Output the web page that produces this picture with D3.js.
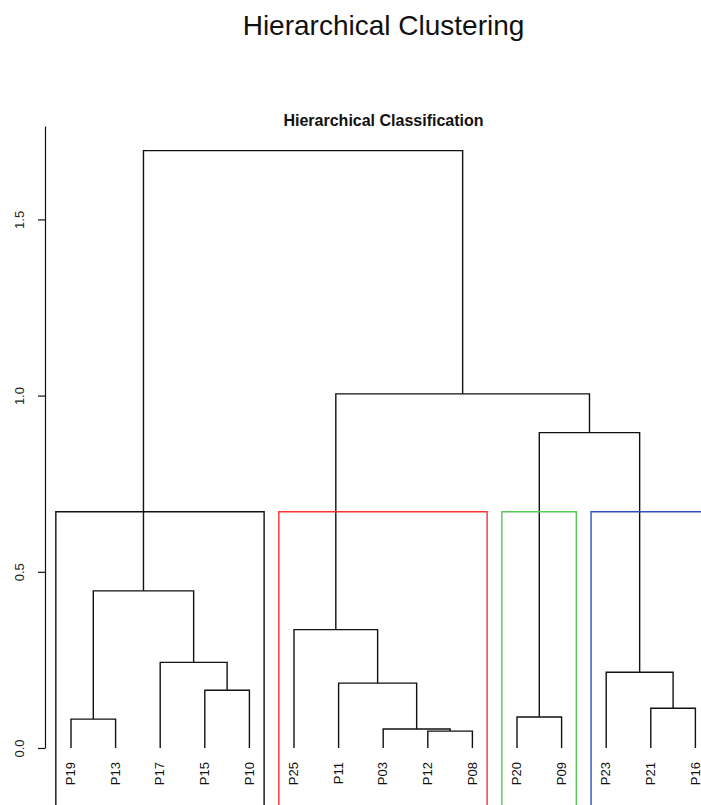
<!DOCTYPE html>
<html>
<head>
<meta charset="utf-8">
<script src="https://cdn.jsdelivr.net/npm/d3@7"></script>
<style>
    body { margin: 0; background: #fff; }
    svg { display: block; font-family: "Liberation Sans", Arial, sans-serif; }
</style>
</head>
<body>
<svg id="chart" width="701" height="805"></svg>
<script>
// Leaf order as drawn from left to right
var leafLabels = ['P19', 'P13', 'P17', 'P15', 'P10', 'P25', 'P11', 'P03', 'P12', 'P08', 'P20', 'P09', 'P23', 'P21', 'P16'];

// Merge steps (R style): a string is a leaf, a number refers to an earlier step (1-based)
var mergeLeft = ['P12', 'P03', 'P19', 'P20', 'P21', 'P15', 'P11', 'P23', 'P17', 'P25', 3, 4, 10, 11];
var mergeRight = ['P08', 1, 'P13', 'P09', 'P16', 'P10', 2, 5, 6, 7, 9, 8, 12, 13];
var mergeHeight = [0.048, 0.054, 0.082, 0.088, 0.113, 0.164, 0.184, 0.215, 0.243, 0.336, 0.446, 0.895, 1.005, 1.695];

// Cut into 4 groups, boxes drawn by rect.hclust
var clusterSizes = [5, 5, 2, 3];
var clusterColors = ['#111111', '#ff3030', '#55c855', '#3050c0'];

var yTicks = [0, 0.5, 1.0, 1.5];

var LINE_COLOR = '#111',
    LINE_WIDTH = 1.4;

var svg = d3.select('#chart');

var x = d3.scaleLinear()
    .domain([1, leafLabels.length])
    .range([71, 695.4]);

var y = d3.scaleLinear()
    .domain([0, 1.765])
    .range([748, 126]);

// Titles
svg.append('text')
    .attr('x', 383.5)
    .attr('y', 35)
    .attr('text-anchor', 'middle')
    .attr('font-size', 28)
    .attr('fill', '#111')
    .text('Hierarchical Clustering');

svg.append('text')
    .attr('x', 383.5)
    .attr('y', 126)
    .attr('text-anchor', 'middle')
    .attr('font-size', 16)
    .attr('font-weight', 'bold')
    .attr('fill', '#111')
    .text('Hierarchical Classification');

// Y axis
var axis = svg.append('g')
    .attr('transform', 'translate(45,0)')
    .call(d3.axisLeft(y)
        .tickValues(yTicks)
        .tickFormat(d3.format('.1f'))
        .tickSize(7)
        .tickSizeOuter(0)
        .tickPadding(0));

axis.select('.domain').attr('stroke', LINE_COLOR).attr('stroke-width', 1.2);
axis.selectAll('.tick line').attr('stroke', LINE_COLOR).attr('stroke-width', 1.2);
axis.selectAll('.tick text')
    .attr('x', null)
    .attr('dy', null)
    .attr('text-anchor', 'middle')
    .attr('font-size', 13)
    .attr('font-family', '"Liberation Sans", Arial, sans-serif')
    .attr('fill', '#222')
    .attr('transform', 'translate(-21,0) rotate(-90)');

// Resolve merge steps into positions
function nodeInfo(ref, nodes) {
    if (typeof ref === 'string') {
        return { x: x(leafLabels.indexOf(ref) + 1), h: 0 };
    }
    return nodes[ref - 1];
}

var nodes = [];
mergeLeft.forEach(function(a, i) {
    var left = nodeInfo(a, nodes);
    var right = nodeInfo(mergeRight[i], nodes);
    nodes.push({
        left: left,
        right: right,
        h: mergeHeight[i],
        x: (left.x + right.x) / 2
    });
});

var tree = svg.append('g');
nodes.forEach(function(n) {
    var p = d3.path();
    p.moveTo(n.left.x, y(n.left.h));
    p.lineTo(n.left.x, y(n.h));
    p.lineTo(n.right.x, y(n.h));
    p.lineTo(n.right.x, y(n.right.h));
    tree.append('path')
        .attr('d', p.toString())
        .attr('fill', 'none')
        .attr('stroke', LINE_COLOR)
        .attr('stroke-width', LINE_WIDTH);
});

// Leaf labels
svg.append('g')
    .selectAll('text')
    .data(leafLabels)
    .enter()
    .append('text')
    .attr('transform', function(d, i) { return 'translate(' + x(i + 1) + ',762) rotate(-90)'; })
    .attr('dy', '0.33em')
    .attr('text-anchor', 'end')
    .attr('font-size', 13)
    .attr('fill', '#111')
    .text(function(d) { return d; });

// Cluster boxes
var k = clusterSizes.length;
var sorted = mergeHeight.slice().sort(d3.descending);
var boxTop = (sorted[k - 2] + sorted[k - 1]) / 2;
var cum = [0].concat(Array.from(d3.cumsum(clusterSizes)));

svg.append('g')
    .selectAll('path')
    .data(clusterSizes)
    .enter()
    .append('path')
    .attr('d', function(d, i) {
        var x0 = x(cum[i] + 0.66), x1 = x(cum[i + 1] + 0.33);
        var yb = 830, yt = y(boxTop);
        return 'M' + x0 + ',' + yb + 'V' + yt + 'H' + x1 + 'V' + yb;
    })
    .attr('fill', 'none')
    .attr('stroke', function(d, i) { return clusterColors[i]; })
    .attr('stroke-width', LINE_WIDTH);
</script>
</body>
</html>
